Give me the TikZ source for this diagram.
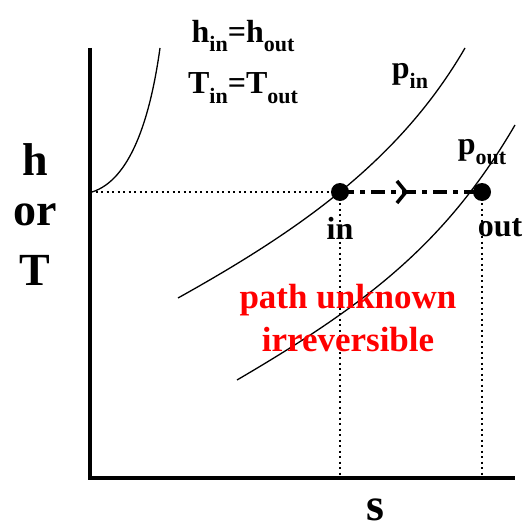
\documentclass[tikz,border=0pt]{standalone}
\usepackage{fontspec}
\setmainfont{Liberation Serif}
\usetikzlibrary{positioning, calc, arrows.meta, decorations.markings}

\newcommand{\lowsub}[1]{\raisebox{-0.3em}{\fontsize{22}{23}\selectfont #1}}

\tikzset{
  axis/.style={line width=4pt},
  isobar/.style={line width=1.3pt},
  guide/.style={line width=1.6pt, dash pattern=on 2pt off 3.5pt},
  flow/.style={line width=3.5pt, dash pattern=on 14pt off 6pt on 5pt off 6pt},
  lbl/.style={font=\bfseries\fontsize{32}{34}\selectfont, inner sep=0pt},
  big/.style={font=\bfseries\fontsize{46}{50}\selectfont, inner sep=0pt},
  note/.style={font=\bfseries\fontsize{35}{38}\selectfont, text=red, inner sep=0pt}
}

\begin{document}
\begin{tikzpicture}[x=1pt, y=-1pt]
            \useasboundingbox (0,0) rectangle (525,532);

            % axes
            \coordinate (O) at (90,478);
            \draw[axis] (90,48) -- (O) -- (515,478);

            % states
            \coordinate (in) at (340,192);
            \coordinate (out) at (482,192);
            \coordinate (hax) at (90,192);

            % constant h or T curve and isobars
            \draw[isobar] (92,192) .. controls (130,180) and (150,120) .. (160,48);
            \draw[isobar] (178,298) .. controls (300,230) and (400,160) .. (465,48);
            \draw[isobar] (237,380) .. controls (365,305) and (445,245) .. (515,125);

            % guide lines
            \draw[guide] (hax) -- (in);
            \draw[guide] (in) -- (in |- O);
            \draw[guide] (out) -- (out |- O);

            \draw[flow, postaction={decorate},
                  decoration={markings, mark=at position 0.48 with {\arrow[solid, line width=3.5pt]{Straight Barb[length=9pt, width=22pt]}}}]
                  (in) -- (out);

            \fill[black] (in) circle (9pt);
            \fill[black] (out) circle (9pt);

            % labels
            \node[lbl] (inlbl) at (340,228) {in};
            \node[lbl] (outlbl) at (500,228) {out};
            \node[lbl] (pin) at (410,76) {p\lowsub{in}};
            \node[lbl] (pout) at (482,152) {p\lowsub{out}};
            \node[lbl] (heq) at (243,36) {h\lowsub{in}=h\lowsub{out}};
            \node[lbl] (teq) at (243,88) {T\lowsub{in}=T\lowsub{out}};

            \node[big] (h) at (35,160) {h};
            \node[big] (or) at (35,215) {or};
            \node[big] (T) at (35,270) {T};
            \node[big] (s) at (375,510) {s};

            \node[note] (path) at (348,300) {path unknown};
            \node[note] (irr) at (348,340) {irreversible};
        \end{tikzpicture}
\end{document}
